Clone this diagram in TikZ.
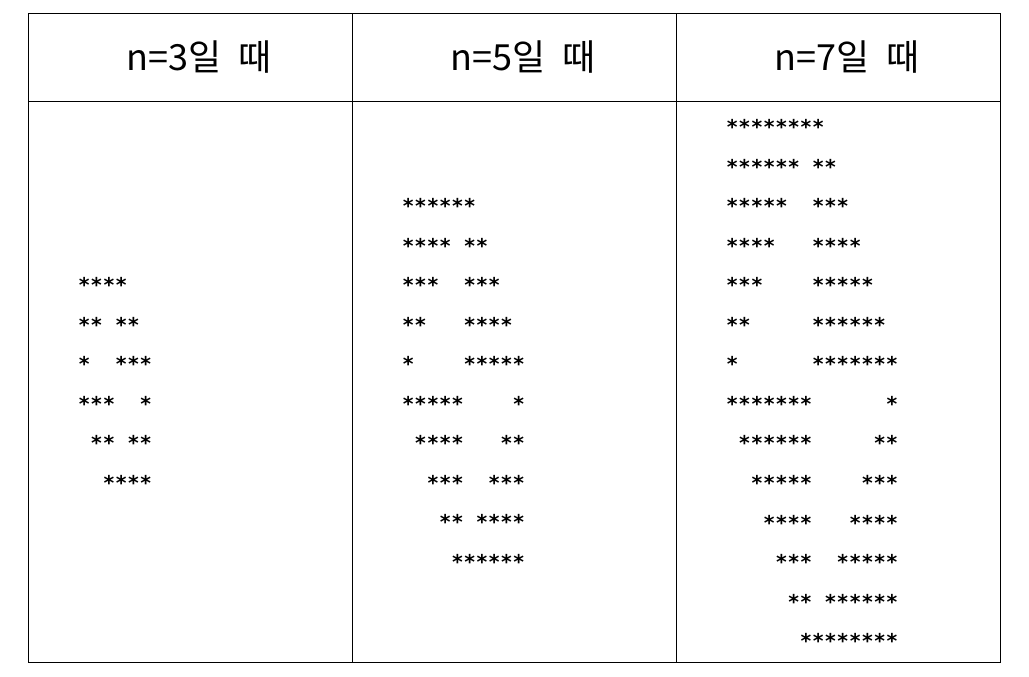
\documentclass[tikz,border=0pt]{standalone}
\usepackage{fontspec}
\setmonofont{DejaVu Sans Mono}
\newfontfamily\cjk{Noto Sans CJK KR}
\tikzset{grid line/.style = {draw, line width=0.8pt},
         head/.style = {font=\cjk\fontsize{36}{42}\selectfont, inner sep=0pt},
         starrow/.style = {anchor=base west, inner sep=0pt, font=\ttfamily\bfseries\fontsize{20.4}{24}\selectfont}}

\begin{document}
\begin{tikzpicture}[x=1pt,y=-1pt]
        \useasboundingbox (0,0) rectangle (1029,677);

        % table frame
        \draw[grid line](28.5,13.5)rectangle(1000.5,662.5);
        \draw[grid line](28.5,101)--(1000.5,101);
        \draw[grid line](352.5,13.5)--(352.5,662.5);
        \draw[grid line](676.5,13.5)--(676.5,662.5);

        % headers
        \node[head](h3)at(199,57){n=3일~~때};
        \node[head](h5)at(523,57){n=5일~~때};
        \node[head](h7)at(847,57){n=7일~~때};

        % n=3
        \foreach \txt [count=\i from 0] in {****,**~**,*~~***,***~~*,~**~**,~~****}
            \node[starrow](a\i)at(78,283+39.55*\i+9.5){\txt};

        % n=5
        \foreach \txt [count=\i from 0] in {******,****~**,***~~***,**~~~****,*~~~~*****,
                                            *****~~~~*,~****~~~**,~~***~~***,~~~**~****,~~~~******}
            \node[starrow](b\i)at(402,204+39.55*\i+9.5){\txt};

        % n=7
        \foreach \txt [count=\i from 0] in {********,******~**,*****~~***,****~~~****,***~~~~*****,
                                            **~~~~~******,*~~~~~~*******,*******~~~~~~*,~******~~~~~**,
                                            ~~*****~~~~***,~~~****~~~****,~~~~***~~*****,~~~~~**~******,~~~~~~********}
            \node[starrow](c\i)at(726,125+39.55*\i+9.5){\txt};
\end{tikzpicture}
\end{document}
